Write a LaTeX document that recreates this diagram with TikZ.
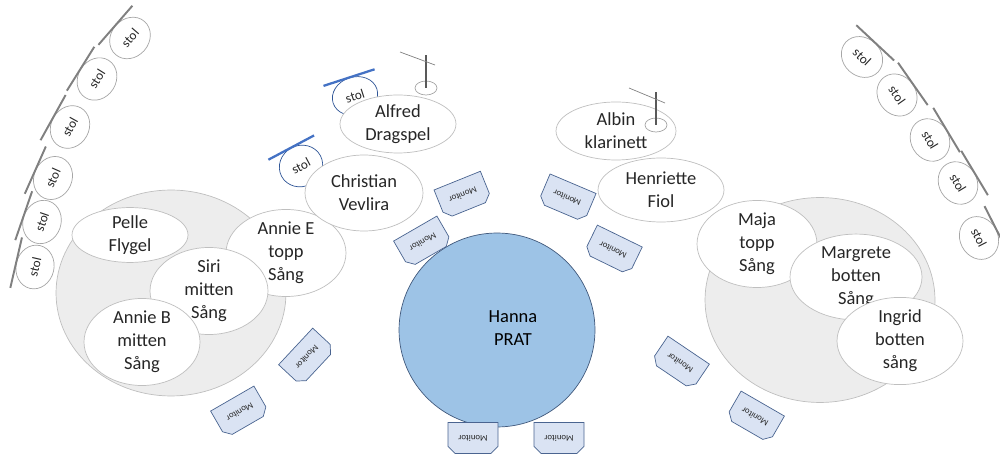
\documentclass[tikz,border=0pt]{standalone}
\usepackage{fontspec}
\setmainfont{Carlito}
\usetikzlibrary{shapes.geometric,shapes.misc,calc}
\definecolor{sectiongrey}{HTML}{EDEDED}
\definecolor{linegrey}{HTML}{BFBFBF}
\definecolor{stolgrey}{HTML}{A6A6A6}
\definecolor{backgrey}{HTML}{808080}
\definecolor{polegrey}{HTML}{595959}
\definecolor{textdark}{HTML}{262626}
\definecolor{stolblue}{HTML}{2F5597}
\definecolor{backblue}{HTML}{4472C4}
\definecolor{stagefill}{HTML}{9DC3E6}
\definecolor{stageline}{HTML}{41597C}
\definecolor{monfill}{HTML}{DAE3F3}
\definecolor{monline}{HTML}{4A6490}

\tikzset{
  section/.style={ellipse, draw=linegrey, fill=sectiongrey, inner sep=0pt},
  person/.style={ellipse, draw=linegrey, fill=white, inner sep=0pt, align=center,
    text=textdark, font=\fontsize{10.5}{13}\selectfont},
  stage/.style={ellipse, draw=stageline, fill=stagefill, inner sep=0pt,
    minimum width=3.92cm, minimum height=3.88cm},
  stol/.style={ellipse, draw=stolgrey, fill=white, inner sep=0pt, text=textdark,
    minimum width=0.88cm, minimum height=0.76cm, font=\fontsize{7.5}{8}\selectfont},
  bluestol/.style={stol, draw=stolblue},
  backrest/.style={draw=backgrey, line width=1.1pt, shorten <=-2pt, shorten >=-2pt},
  bluebackrest/.style={backrest, draw=backblue, line width=1.3pt},
  monitor/.style={chamfered rectangle, chamfered rectangle corners={north west, north east},
    chamfered rectangle sep=0.08cm, draw=monline, fill=monfill, inner sep=0pt,
    minimum width=1cm, minimum height=0.62cm, text=textdark, font=\fontsize{5}{6}\selectfont},
  standfoot/.style={ellipse, draw=stolgrey, fill=white, inner sep=0pt,
    minimum width=0.44cm, minimum height=0.28cm},
  standpole/.style={draw=polegrey, line width=1.1pt},
  standbar/.style={draw=backgrey, line width=0.4pt},
}

\begin{document}
\begin{tikzpicture}[x=0.02cm, y=-0.02cm]
  \useasboundingbox (0,0) rectangle (1000,455);

  % sections
  \node[section, minimum width=4.6cm, minimum height=4.12cm] (leftSection) at (171,293) {};
  \node[section, minimum width=4.6cm, minimum height=4.1cm] (rightSection) at (820,300) {};

  % chairs, left row
  \foreach \n/\x/\y/\a in {stolL1/130/38/49, stolL2/97/79/58, stolL3/70/127/61,
      stolL4/53/178/66, stolL5/42/222/71, stolL6/35/267/77}{
    \node[stol, rotate=\a] (\n) at (\x,\y) {stol};
    \draw[backrest] ($(\n.north)+(\n.west)-(\n.center)$) -- ($(\n.north)+(\n.east)-(\n.center)$);
  }
  % chairs, right row
  \foreach \n/\x/\y/\a in {stolR1/862/57/-43, stolR2/897/95/-55, stolR3/930/140/-59,
      stolR4/958/183/-59, stolR5/979/238/-63}{
    \node[stol, rotate=\a] (\n) at (\x,\y) {stol};
    \draw[backrest] ($(\n.north)+(\n.west)-(\n.center)$) -- ($(\n.north)+(\n.east)-(\n.center)$);
  }
  % chairs for the players
  \node[bluestol, rotate=18, minimum width=0.92cm] (stolAlfred) at (355,96) {stol};
  \draw[bluebackrest] ($(stolAlfred.north)+(stolAlfred.west)-(stolAlfred.center)$) -- ($(stolAlfred.north)+(stolAlfred.east)-(stolAlfred.center)$);
  \node[bluestol, rotate=28, minimum height=0.82cm] (stolChristian) at (301,166) {stol};
  \draw[bluebackrest] ($(stolChristian.north)+(stolChristian.west)-(stolChristian.center)$) -- ($(stolChristian.north)+(stolChristian.east)-(stolChristian.center)$);

  % left group
  \node[person, minimum width=2.32cm, minimum height=1.08cm] (pelle) at (130,235) {Pelle\\Flygel};
  \node[person, minimum width=2.4cm, minimum height=1.28cm] (annieE) at (286,253) {Annie E\\topp\\Sång};
  \node[person, minimum width=2.36cm, minimum height=1.32cm] (siri) at (209,291) {Siri\\mitten\\Sång};
  \node[person, minimum width=2.32cm, minimum height=1.48cm] (annieB) at (142,342) {Annie B\\mitten\\Sång};

  % middle players
  \node[person, minimum width=2.36cm, minimum height=1.52cm] (christian) at (364,193) {Christian\\Vevlira};
  \node[person, minimum width=2.32cm, minimum height=1.16cm] (alfred) at (398,124) {Alfred\\Dragspel};
  \node[person, minimum width=2.4cm, minimum height=1.16cm] (albin) at (616,131) {Albin\\klarinett};
  \node[person, minimum width=2.52cm, minimum height=1.28cm] (henriette) at (661,190) {Henriette\\Fiol};

  % right group
  \node[person, minimum width=2.4cm, minimum height=1.48cm] (maja) at (757,244) {Maja\\topp\\Sång};
  \node[person, minimum width=2.64cm, minimum height=1.32cm] (margrete) at (856,277) {Margrete\\botten\\Sång};
  \node[person, minimum width=2.52cm, minimum height=1.44cm] (ingrid) at (900,341) {Ingrid\\botten\\sång};

  % stands
  \node[standfoot] (standAlfred) at (426,88) {};
  \coordinate (standAlfredTop) at (426,55);
  \coordinate (barAlfredA) at (400,52);
  \coordinate (barAlfredB) at (435,65);
  \draw[standpole] (standAlfred.center) -- (standAlfredTop);
  \draw[standbar] (barAlfredA) -- (barAlfredB);
  \node[standfoot] (standAlbin) at (656,125) {};
  \coordinate (standAlbinTop) at (656,92);
  \coordinate (barAlbinA) at (629,88);
  \coordinate (barAlbinB) at (665,103);
  \draw[standpole] (standAlbin.center) -- (standAlbinTop);
  \draw[standbar] (barAlbinA) -- (barAlbinB);

  % stage
  \node[stage] (hanna) at (497,330) {};
  \node[align=center, font=\fontsize{10.5}{13}\selectfont, text=black] (hannaText) at (513,328) {Hanna\\PRAT};

  % monitors
  \node[monitor, rotate=202] (monitor1) at (463,195) {Monitor};
  \node[monitor, rotate=210] (monitor2) at (423,242) {Monitor};
  \node[monitor, rotate=157] (monitor3) at (567,198) {Monitor};
  \node[monitor, rotate=154] (monitor4) at (613,250) {Monitor};
  \node[monitor, rotate=146] (monitor5) at (680,363) {Monitor};
  \node[monitor, rotate=150] (monitor6) at (755,417) {Monitor};
  \node[monitor, rotate=227] (monitor7) at (307,357) {Monitor};
  \node[monitor, rotate=210] (monitor8) at (240,412) {Monitor};
  \node[monitor, rotate=180] (monitor9) at (473,438) {Monitor};
  \node[monitor, rotate=180] (monitor10) at (559,438) {Monitor};
\end{tikzpicture}
\end{document}
